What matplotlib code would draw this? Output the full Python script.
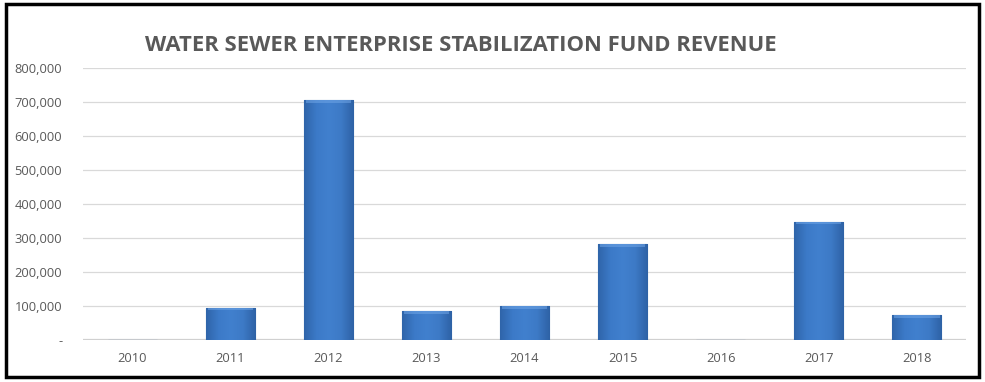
import numpy as np
import matplotlib.pyplot as plt
from matplotlib.patches import Rectangle
from matplotlib.colors import LinearSegmentedColormap
from matplotlib.ticker import FuncFormatter

years = ['2010', '2011', '2012', '2013', '2014', '2015', '2016', '2017', '2018']
revenue = [0, 95000, 706000, 84000, 100000, 282000, 0, 348000, 74000]
yticks = [0, 100000, 200000, 300000, 400000, 500000, 600000, 700000, 800000]

plt.rcParams['font.family'] = ['Open Sans', 'DejaVu Sans']

fig = plt.figure(figsize=(9.85, 3.82), dpi=100)
ax = fig.add_axes([0.0843, 0.110, 0.8964, 0.712])

x = np.arange(len(years))
width = 0.5
bars = ax.bar(x, revenue, width=width, color='#3D79C6', edgecolor='#2C5E9C',
              linewidth=0.8, zorder=3)

# soft shading across each bar, darker towards the sides
shade = LinearSegmentedColormap.from_list(
    'shade', ['#2F65AA', '#3C7AC8', '#4180CE', '#3D7AC6', '#2E62A6'])
grad = np.linspace(0, 1, 64).reshape(1, -1)
for b in bars:
    h = b.get_height()
    if h <= 0:
        continue
    x0 = b.get_x()
    im = ax.imshow(grad, cmap=shade, aspect='auto', zorder=3.5,
                   extent=(x0, x0 + width, 0, h), interpolation='bicubic')
    im.set_clip_path(b)
    # lighter bevel along the top edge
    ax.add_patch(Rectangle((x0 + 0.02, h - 8000), width - 0.04, 8000,
                           facecolor='#6FA5E6', edgecolor='none', alpha=0.55,
                           zorder=3.6))

ax.set_xlim(-0.5, len(years) - 0.5)
ax.set_ylim(0, 800000)
ax.set_xticks(x)
ax.set_xticklabels(years)
ax.set_yticks(yticks)
ax.yaxis.set_major_formatter(FuncFormatter(lambda v, p: '-' if v == 0 else f'{int(v):,}'))
ax.tick_params(axis='both', length=0, colors='#595959', labelsize=9.3)
ax.tick_params(axis='y', pad=15)
ax.tick_params(axis='x', pad=9)

ax.grid(axis='y', color='#D9D9D9', linewidth=0.9, zorder=0)
for s in ax.spines.values():
    s.set_visible(False)
ax.axhline(0, color='#D0D0D0', linewidth=1.6, zorder=2)

fig.text(0.468, 0.88, 'WATER SEWER ENTERPRISE STABILIZATION FUND REVENUE',
         ha='center', va='center', fontsize=15.8, fontweight='bold',
         color='#595959')

# outer frame
fig.patches.append(Rectangle((0.006, 0.012), 0.988, 0.978, transform=fig.transFigure,
                             fill=False, edgecolor='black', linewidth=2.5))

fig.savefig('out.png', dpi=100)
